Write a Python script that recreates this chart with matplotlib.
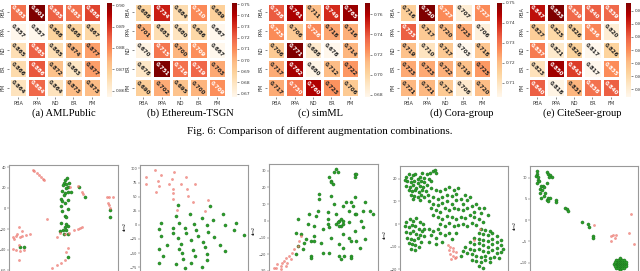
import matplotlib

matplotlib.use("Agg")

import matplotlib.pyplot as plt
import numpy as np


FIG_W, FIG_H = 640, 271
AUG_LABELS = ["PBA", "PPA", "ND", "ER", "FM"]

AML_PUBLIC = [
    [0.883, 0.901, 0.885, 0.883, 0.888],
    [0.857, 0.857, 0.868, 0.868, 0.867],
    [0.865, 0.885, 0.865, 0.874, 0.877],
    [0.866, 0.886, 0.872, 0.863, 0.877],
    [0.864, 0.884, 0.864, 0.873, 0.873],
]
ETHEREUM_TSGN = [
    [0.688, 0.734, 0.684, 0.710, 0.689],
    [0.701, 0.683, 0.680, 0.686, 0.667],
    [0.670, 0.715, 0.700, 0.709, 0.667],
    [0.678, 0.751, 0.716, 0.719, 0.703],
    [0.690, 0.702, 0.695, 0.700, 0.709],
]
SIM_ML = [
    [0.738, 0.761, 0.711, 0.749, 0.765],
    [0.725, 0.706, 0.726, 0.718, 0.716],
    [0.706, 0.771, 0.688, 0.678, 0.714],
    [0.717, 0.762, 0.680, 0.712, 0.722],
    [0.717, 0.730, 0.760, 0.723, 0.706],
]
CORA_GROUP = [
    [0.716, 0.750, 0.727, 0.707, 0.727],
    [0.733, 0.717, 0.720, 0.723, 0.706],
    [0.719, 0.710, 0.717, 0.703, 0.718],
    [0.723, 0.723, 0.722, 0.719, 0.725],
    [0.721, 0.721, 0.717, 0.708, 0.720],
]
CITESEER_GROUP = [
    [0.847, 0.853, 0.839, 0.840, 0.839],
    [0.827, 0.825, 0.826, 0.836, 0.820],
    [0.837, 0.821, 0.826, 0.817, 0.826],
    [0.823, 0.850, 0.843, 0.817, 0.835],
    [0.840, 0.818, 0.831, 0.838, 0.840],
]
CBAR_TICKS = [
    [0.86, 0.87, 0.88, 0.89, 0.90],
    [0.67, 0.68, 0.69, 0.70, 0.71, 0.72, 0.73, 0.74, 0.75],
    [0.68, 0.70, 0.72, 0.74, 0.76],
    [0.71, 0.72, 0.73, 0.74, 0.75],
    [0.820, 0.825, 0.830, 0.835, 0.840, 0.845, 0.850],
]
CBAR_FORMATS = ["{:.2f}", "{:.2f}", "{:.2f}", "{:.2f}", "{:.3f}"]
CAPTIONS = [
    "(a) AMLPublic",
    "(b) Ethereum-TSGN",
    "(c) simML",
    "(d) Cora-group",
    "(e) CiteSeer-group",
]
FIG_CAPTION = "Fig. 6: Comparison of different augmentation combinations."

# t-SNE embeddings (dim1, dim2)
AML_NORMAL = [
    (15, 21), (21, 11), (45, -2), (45, -8), (-38, -37), (-41, -37), (5, -47),
    (4, 29), (2, 27), (1, 25), (6, 25), (3, 24), (0, 23), (5, 21), (3, 20),
    (-1, 17), (5, 16), (2, 15), (8, 16), (1, 13), (-2, 9), (5, 8), (-1, 7),
    (2, 5), (-2, 2), (5, -1), (-1, -3), (2, -7), (3, -8), (-2, -14), (3, -15),
    (5, -17), (2, -18), (0, -21), (-3, -22), (3, -21), (1, -25), (5, -25),
]
AML_ANOMALY = [
    (-29, 37), (-28, 36), (-25, 34), (-23, 32), (-21, 30), (-19, 28), (-18, 27),
    (14, 22), (7, 21), (18, 16), (19, 14), (42, 11), (44, 11), (48, 11),
    (43, 5), (44, 3), (45, 0), (-15, -10), (-42, -18), (-39, -22), (-44, -25),
    (-41, -28), (-39, -27), (-36, -26), (-45, -27), (-47, -30), (-48, -28),
    (-32, -25), (-42, -35), (-45, -40), (-41, -41), (-38, -40), (-48, -39),
    (-42, -50), (14, -20), (16, -19), (18, -18), (11, -21), (6, -24), (2, -25),
    (-3, -24), (-6, -28), (5, -38), (3, -42), (2, -50), (-2, -53), (-6, -55),
    (-11, -58),
]
ETH_NORMAL = [
    (-24, 35), (32, 33), (-3, 20), (-27, 16), (19, 13), (56, 19), (38, 9),
    (-53, 4), (-22, 4), (4, 1), (28, 0), (59, 0), (78, 4), (-58, -7), (-32, -6),
    (-11, -6), (8, -9), (76, -9), (-32, -15), (-10, -15), (30, -13), (-54, -20),
    (-24, -24), (12, -19), (39, -21), (93, -18), (-43, -35), (-1, -27),
    (21, -30), (-19, -33), (50, -35), (24, -40), (-57, -43), (-22, -42),
    (3, -45), (59, -46), (-51, -55), (-17, -50), (6, -55), (28, -52),
    (-15, -60), (27, -63), (-58, -68), (-28, -70), (-1, -68), (-12, -76),
    (18, -75),
]
ETH_ANOMALY = [
    (-64, 97), (-80, 84), (-54, 88), (-31, 93), (-60, 78), (-35, 82), (-9, 84),
    (-81, 72), (-57, 68), (-40, 73), (-18, 73), (6, 73), (-32, 64), (-7, 63),
    (-63, 58), (-32, 56), (-6, 51), (-32, 46), (30, 44), (2, 40), (-25, 26),
    (24, 24),
]
SIMML_NORMAL = [
    (9, 31), (8, 29), (10, 29), (5, 26), (6, 24), (7, 22), (6, 23), (20, 28),
    (20, 26), (21, 28), (-1, 16), (-1, 13), (6, 15), (20, 14), (15, 11),
    (18, 11), (26, 11), (19, 9), (25, 6), (29, 6), (31, 4), (8, 10), (13, 9),
    (17, 6), (20, 4), (21, 4), (-2, 6), (4, 5), (9, 4), (-3, 3), (-7, 4),
    (-14, 1), (-8, -2), (-4, -3), (4, 1), (4, -2), (9, -2), (11, 0), (12, 1),
    (13, -2), (12, -3), (11, -3), (10, -1), (13, 0), (1, -5), (5, -4), (17, -1),
    (24, 0), (20, -6), (25, -4), (-15, -7), (-12, -8), (-9, -11), (-6, -12),
    (-4, -9), (-4, -12), (-10, -13), (-11, -17), (-14, -15), (-15, -20),
    (0, -13), (6, -10), (13, -8), (17, -10), (18, -12), (21, -12), (26, -11),
    (23, -16), (13, -16), (11, -14), (1, -19), (5, -19), (11, -21), (12, -23),
    (14, -21), (18, -21), (18, -22), (-6, -21), (-6, -22),
]
SIMML_ANOMALY = [
    (-12, -9), (-13, -12), (-14, -15), (-16, -17), (-17, -19), (-19, -21),
    (-18, -23), (-21, -22), (-22, -24), (-23, -25), (-24, -27), (-26, -26),
    (-27, -28), (-28, -28), (-24, -29), (-21, -27), (-20, -25),
]
CORA_NORMAL = [
    (-20, 21), (-19, 22), (-18, 20.5), (-17, 21.5), (-16, 22), (-15, 20),
    (-14, 21), (-13, 22.5), (-12, 20.5), (-19.5, 19), (-18, 18.5), (-16.5, 19),
    (-15, 18), (-13.5, 19), (-12, 18.5), (-20, 17), (-18.5, 16.5), (-17, 17.5),
    (-15.5, 16), (-14, 17), (-12.5, 16.5), (-11, 17.5), (-19, 15), (-17.5, 14.5),
    (-16, 15), (-14.5, 14), (-13, 15), (-11.5, 14.5), (-18, 13), (-16.5, 12.5),
    (-15, 12), (-13.5, 13), (-12, 12), (-10.5, 13), (-17, 11), (-14, 10.5),
    (-20.5, 19.5), (-10, 20), (-11, 22), (-9, 19),
    (-9.5, 22.5), (-8.3, 23.5), (-7.2, 24), (-6.8, 22.6),
    (-9, 16), (-7, 15), (-5, 14.5), (-3, 15.5), (-1, 16.5), (1, 15), (-2, 13),
    (0, 12.5), (2, 13.5), (3, 16), (-8, 12), (-6, 11), (-4, 12), (-10, 10),
    (-8, 9), (-6, 8.5), (-4, 9.5), (-2, 10), (0, 9), (2, 10.5), (4, 11), (6, 13),
    (5, 9), (7, 10.5), (8, 12), (-9, 7), (-7, 6), (-5, 5.5), (-3, 7), (-1, 6),
    (1, 7), (3, 6.5), (5, 6), (7, 7), (9, 8), (11, 9), (12, 7), (13, 5), (-8, 4),
    (-6, 3), (-4, 2), (-2, 3.5), (0, 3), (2, 2), (4, 3), (6, 2.5), (8, 4),
    (10, 3), (12, 2), (14, 1), (-5, 0), (-3, -1), (-1, 0.5), (1, -1), (3, -0.5),
    (5, 0), (7, -1), (9, 0.5), (11, -0.5), (10, 5.5), (14.5, 7), (16, 4),
    (-20, 1), (-18.5, 2), (-17, 1.5), (-15.5, 2.5), (-14, 1), (-12.5, 0),
    (-20.5, -1), (-19, -1.5), (-17.5, -0.5), (-16, -1), (-14.5, -2), (-13, -3),
    (-20, -3.5), (-18.5, -4), (-17, -3), (-15.5, -4.5), (-14, -5), (-12, -5.5),
    (-19.5, -6), (-18, -6.5), (-16.5, -7), (-15, -6), (-13.5, -8), (-19, -8.5),
    (-17.5, -9), (-16, -9.5), (-14.5, -10), (-18, -11), (-16, -11.5), (-12, -2),
    (-10, -2), (-8, -3), (-6, -2), (-9, -5), (-7, -6), (-5, -4), (-3, -5),
    (-10, -8), (-4, -8), (-1, -4), (2, -4), (-7, -9), (0, -6.5),
    (13, -2), (15, -2.5), (17, -3), (12, -4), (14, -4.5), (16, -5), (18, -4),
    (20, -5.5), (10, -6), (12, -6.5), (14, -7), (16, -7.5), (18, -6.5), (20, -8),
    (22, -7), (8, -8), (10, -9), (12, -8.5), (14, -9.5), (16, -10), (18, -9),
    (20, -10.5), (22, -9.5), (23, -11), (6, -10), (8, -11), (10, -11.5),
    (12, -11), (14, -12), (16, -12.5), (18, -11.5), (20, -13), (22, -12.5),
    (7, -13), (9, -13.5), (11, -14), (13, -14.5), (15, -14), (17, -15),
    (19, -14.5), (21, -15), (9, -16), (11, -16.5), (13, -17), (15, -16),
    (17, -17), (12, -18.5), (14, -19.5), (5, -12), (4, -14),
]
CORA_ANOMALY = [
    (-1.5, -9.5), (-0.5, -10), (0.8, -10.5), (-1, -11.5), (0.5, -12),
    (1.8, -12.5), (-0.8, -13.5), (0.6, -14), (1.5, -15), (-0.2, -15.5),
    (2.2, -14.5), (12.8, -2.2), (10, -7),
]
CITESEER_NORMAL = [
    (-10.4, 11.6), (-10.5, 10.9), (-10.8, 10.3), (-10.2, 10.2), (-10.3, 9.5),
    (-9.9, 9.1), (-10.4, 8.8), (-9.6, 8.0), (-9.8, 7.4), (-9.1, 8.0),
    (-8.8, 7.8), (-9.2, 7.0), (-8.6, 6.3), (-8.8, 5.6), (-9.4, 5.1),
    (-8.0, 8.6), (-8.2, 11.3), (-7.8, 10.9), (-7.4, 10.5), (-7.0, 10.2),
    (-7.6, 10.2), (-9.8, 6.4), (-8.2, 4.7), (-7.8, 5.1), (-7.4, 5.2),
    (-6.1, 4.8), (-6.1, 4.3), (-7.8, 4.5), (-3.9, 2.9), (-3.5, 2.6),
    (-3.1, 2.2), (0.2, -0.4), (1.6, -0.9), (1.7, -1.6), (2.6, -3.8), (2.7, -4.1),
    (9.1, -10.3), (9.6, -10.3), (10.1, -10.3), (8.6, -10.3), (8.1, -10.3),
    (10.5, -10.3), (7.7, -10.3), (9.1, -9.8), (9.1, -9.3), (9.1, -8.9),
    (9.1, -10.8), (9.1, -11.3), (9.1, -11.7), (9.6, -9.8), (10.1, -9.8),
    (9.6, -9.3), (8.6, -9.8), (8.1, -9.8), (8.6, -9.3), (9.6, -10.8),
    (10.1, -10.8), (9.6, -11.3), (8.6, -10.8), (8.1, -10.8), (8.6, -11.3),
    (10.0, -9.4), (8.2, -9.4), (10.0, -11.2), (8.2, -11.2), (10.4, -9.8),
    (7.8, -9.8), (10.4, -10.8), (7.8, -10.8),
]
CITESEER_ANOMALY = [
    (3.0, -1.2), (6.9, -3.8), (7.4, -3.5), (7.8, -4.1), (8.2, -3.5), (7.0, -4.9),
    (11.3, -3.1), (11.7, 1.4), (12.3, -5.6),
]
TSNE_YTICKS = [
    [40, 20, 0, -20, -40, -60],
    [100, 75, 50, 25, 0, -25, -50, -75],
    [30, 20, 10, 0, -10, -20, -30],
    [20, 10, 0, -10, -20],
    [10, 5, 0, -5, -10],
]

HEATMAPS = [AML_PUBLIC, ETHEREUM_TSGN, SIM_ML, CORA_GROUP, CITESEER_GROUP]
EMBEDDINGS = [
    (AML_NORMAL, AML_ANOMALY),
    (ETH_NORMAL, ETH_ANOMALY),
    (SIMML_NORMAL, SIMML_ANOMALY),
    (CORA_NORMAL, CORA_ANOMALY),
    (CITESEER_NORMAL, CITESEER_ANOMALY),
]

# layout in pixels of the 640x271 canvas
HEATMAP_LEFTS = [9, 134, 267, 399, 528]
CAPTION_CENTERS = [64, 190, 320, 462, 582]
# left, top, width, height, xlim, ylim
SCATTER_BOXES = [
    (9, 165, 109, 126, (-52, 53), (-80, 42)),
    (140, 165, 108, 122, (-91, 100), (-110, 106)),
    (269, 164, 109, 132, (-31, 34), (-45, 34)),
    (400, 166, 108, 137, (-22.8, 25), (-35, 25.7)),
    (530, 166, 108, 118, (-12.1, 13.3), (-15, 12.7)),
]
GREEN = "#2ca02c"
GREEN_EDGE = "#1b6b1b"
RED = "#f28b82"
RED_EDGE = "#e0403a"
SERIF = ["Liberation Serif", "DejaVu Serif"]


def px_rect(left, top, width, height):
    return [left / FIG_W, 1 - (top + height) / FIG_H, width / FIG_W, height / FIG_H]


def relative_luminance(rgb):
    rgb = np.asarray(rgb[:3])
    rgb = np.where(rgb <= 0.03928, rgb / 12.92, ((rgb + 0.055) / 1.055) ** 2.4)
    return 0.2126 * rgb[0] + 0.7152 * rgb[1] + 0.0722 * rgb[2]


def build_heatmap(fig, index):
    values = np.array(HEATMAPS[index])
    left = HEATMAP_LEFTS[index]
    ax = fig.add_axes(px_rect(left, 3, 92, 94))
    cax = fig.add_axes(px_rect(left + 98, 3, 5, 94))

    cmap = plt.get_cmap("OrRd")
    mesh = ax.pcolormesh(values, cmap=cmap, edgecolors="white", linewidth=0.9)
    ax.set_xlim(0, 5)
    ax.set_ylim(5, 0)
    for spine in ax.spines.values():
        spine.set_visible(False)

    centers = np.arange(5) + 0.5
    ax.set_xticks(centers, AUG_LABELS)
    ax.set_yticks(centers, AUG_LABELS, rotation=90, va="center")
    ax.tick_params(labelsize=3.6, length=1.5, width=0.4, pad=1.2, colors="#333333")

    vmin, vmax = values.min(), values.max()
    for row in range(5):
        for col in range(5):
            value = values[row, col]
            rgba = cmap((value - vmin) / (vmax - vmin))
            color = "white" if relative_luminance(rgba) < 0.408 else "#222222"
            ax.text(
                col + 0.5,
                row + 0.5,
                f"{value:.3f}",
                ha="center",
                va="center",
                rotation=-45,
                fontsize=4.0,
                fontweight="bold",
                color=color,
            )

    cbar = fig.colorbar(mesh, cax=cax)
    cbar.outline.set_visible(False)
    ticks = CBAR_TICKS[index]
    cbar.set_ticks(ticks, labels=[CBAR_FORMATS[index].format(t) for t in ticks])
    cbar.ax.tick_params(labelsize=3.2, length=1.5, width=0.4, pad=1.2, colors="#333333")

    fig.text(
        CAPTION_CENTERS[index] / FIG_W,
        1 - 113 / FIG_H,
        CAPTIONS[index],
        ha="center",
        va="center",
        fontsize=7.6,
        family=SERIF,
    )


def build_embedding(fig, index):
    left, top, width, height, xlim, ylim = SCATTER_BOXES[index]
    normal, anomaly = EMBEDDINGS[index]
    ax = fig.add_axes(px_rect(left, top, width, height))

    normal_xy = np.array(normal)
    anomaly_xy = np.array(anomaly)
    ax.scatter(
        normal_xy[:, 0], normal_xy[:, 1],
        s=5, color=GREEN, edgecolors=GREEN_EDGE, linewidths=0.3,
    )
    ax.scatter(
        anomaly_xy[:, 0], anomaly_xy[:, 1],
        s=2.5, color=RED, edgecolors=RED_EDGE, linewidths=0.2, alpha=0.85,
    )
    ax.set_xlim(*xlim)
    ax.set_ylim(*ylim)
    ax.set_yticks(TSNE_YTICKS[index])
    ax.set_xticks([])
    ax.set_ylabel("dim2", fontsize=2.5, labelpad=2)
    ax.tick_params(labelsize=2.5, length=1.2, width=0.3, pad=1, colors="#444444")
    for spine in ax.spines.values():
        spine.set_color("#999999")
        spine.set_linewidth(0.8)


fig = plt.figure(figsize=(FIG_W / 100, FIG_H / 100), dpi=100)

for i in range(5):
    build_heatmap(fig, i)
    build_embedding(fig, i)

fig.text(
    0.5,
    1 - 131 / FIG_H,
    FIG_CAPTION,
    ha="center",
    va="center",
    fontsize=7.9,
    family=SERIF,
)

fig.savefig("out.png", dpi=100)
plt.close(fig)
